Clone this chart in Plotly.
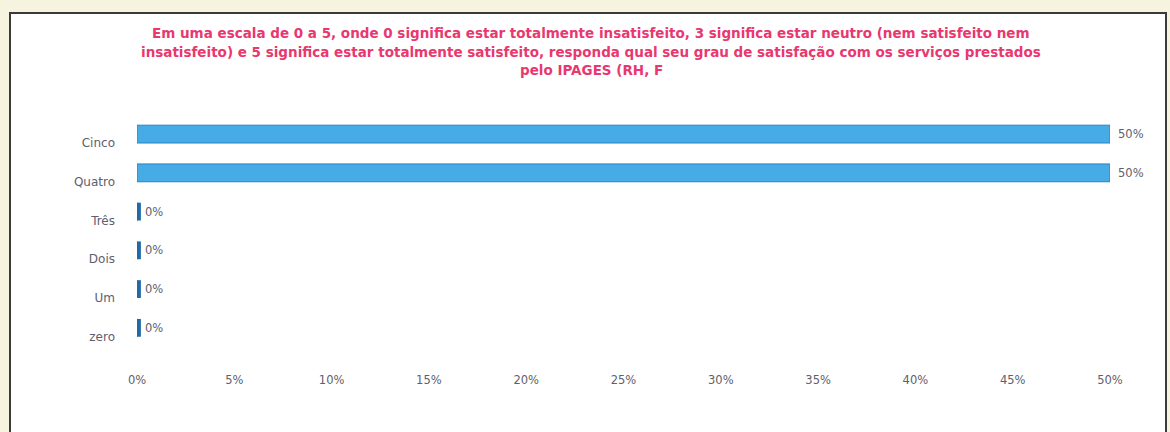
import plotly.graph_objects as go

categories = ["zero", "Um", "Dois", "Três", "Quatro", "Cinco"]
values = [0.0, 0.0, 0.0, 0.0, 0.50, 0.50]
labels = ["0%", "0%", "0%", "0%", "50%", "50%"]
x_ticks = [0, 0.05, 0.10, 0.15, 0.20, 0.25, 0.30, 0.35, 0.40, 0.45, 0.50]
x_tick_labels = ["0%", "5%", "10%", "15%", "20%", "25%", "30%", "35%", "40%", "45%", "50%"]
title_lines = [
    "Em uma escala de 0 a 5, onde 0 significa estar totalmente insatisfeito, 3 significa estar neutro (nem satisfeito nem",
    "insatisfeito) e 5 significa estar totalmente satisfeito, responda qual seu grau de satisfação com os serviços prestados",
    "pelo IPAGES (RH, F",
]

FONT = "DejaVu Sans"
GRAY = "#60606c"
face_depth = 0.002
bar_w = 0.46
y_range = [-0.6, 5.8]

fig = go.Figure()
fig.add_trace(go.Bar(
    y=categories, x=values, orientation="h",
    offset=0, width=bar_w,
    marker=dict(color="#47abe6", line=dict(color="#2c80c2", width=1)),
    hoverinfo="skip", cliponaxis=False,
))
fig.add_trace(go.Bar(
    y=categories, x=[face_depth] * len(values), base=values, orientation="h",
    offset=0, width=bar_w,
    marker=dict(color="#1f6aa8", line=dict(width=0)),
    hoverinfo="skip", cliponaxis=False,
))

ml, mr, mt, mb = 137, 60, 112, 72
W, H = 1170, 432
pw, ph = W - ml - mr, H - mt - mb

def px_x(p):
    return (p - ml) / pw

def px_y(p):
    return (H - mb - p) / ph

fig.add_shape(type="rect", xref="paper", yref="paper",
              x0=px_x(10), x1=px_x(1166), y0=px_y(470), y1=px_y(13),
              fillcolor="white", line=dict(color="#3a3a3a", width=2), layer="below")

for line, yp in zip(title_lines, [33, 52, 70]):
    fig.add_annotation(text="<b>" + line + "</b>", xref="paper", yref="paper",
                       x=px_x(591), y=px_y(yp), xanchor="center", yanchor="middle",
                       showarrow=False,
                       font=dict(family=FONT, size=13.5, color="#e8386f"))

for cat, val, lab in zip(categories, values, labels):
    fig.add_annotation(text=lab, xref="x", yref="y2", x=val, y=cat,
                       xanchor="left", yanchor="middle", xshift=6,
                       showarrow=False,
                       font=dict(family=FONT, size=11.5, color=GRAY))

fig.update_layout(
    width=W, height=H,
    margin=dict(l=ml, r=mr, t=mt, b=mb, autoexpand=False),
    paper_bgcolor="#f6f4df", plot_bgcolor="rgba(0,0,0,0)",
    barmode="overlay", showlegend=False,
    xaxis=dict(range=[0, 0.5], tickvals=x_ticks, ticktext=x_tick_labels,
               showgrid=False, zeroline=False, showline=False,
               ticks="", ticklabelstandoff=11,
               tickfont=dict(family=FONT, size=11.5, color=GRAY)),
    yaxis=dict(type="category", categoryorder="array", categoryarray=categories,
               range=y_range, showgrid=False, zeroline=False, showline=False,
               ticks="", ticklabelstandoff=21,
               tickfont=dict(family=FONT, size=12, color=GRAY)),
    yaxis2=dict(type="category", categoryorder="array", categoryarray=categories,
                overlaying="y", visible=False,
                range=[y_range[0] - bar_w / 2, y_range[1] - bar_w / 2]),
)

fig.write_html(
    "out.html",
    config={"displayModeBar": False},
    post_script="document.body.style.margin='0';document.body.style.background='#f6f4df';",
)
